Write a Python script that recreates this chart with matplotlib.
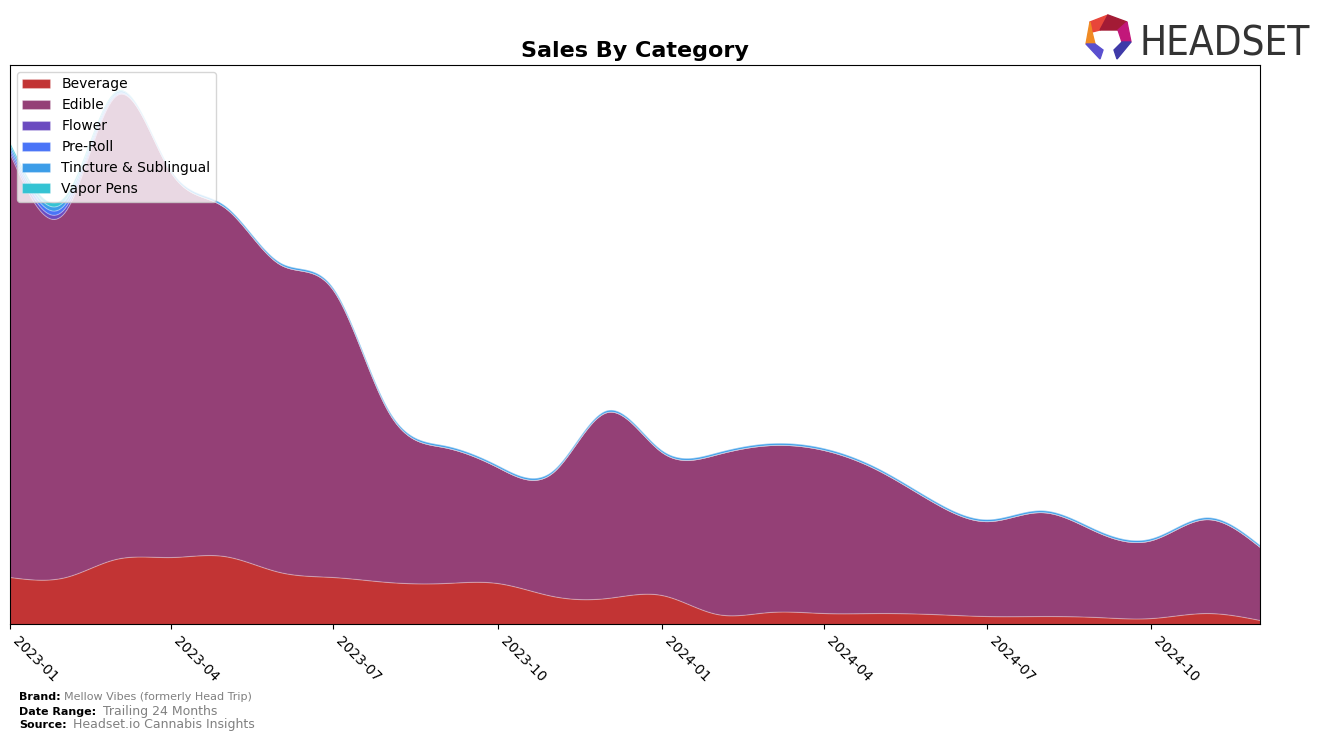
import matplotlib.pyplot as plt
import matplotlib.dates as mdates
from matplotlib.patches import Polygon
import numpy as np
import pandas as pd

# monthly sales (arbitrary units)
months = pd.date_range('2023-01-01', '2024-12-01', freq='MS')
beverage = [47, 47, 65, 67, 68, 52, 47, 42, 41, 41, 28, 26,
            29, 10, 12, 11, 11, 10, 8, 8, 7, 6, 11, 4]
total = [481, 429, 533, 454, 419, 362, 336, 214, 179, 159, 154, 214,
         174, 172, 181, 176, 156, 124, 105, 114, 94, 86, 107, 79]
flower = [3, 4, 1, 0, 0, 0, 0, 0, 0, 0, 0, 0,
          0, 0, 0, 0, 0, 0, 0, 0, 0, 0, 0, 0]
preroll = [3, 4, 1, 0, 0, 0, 0, 0, 0, 0, 0, 0,
           0, 0, 0, 0, 0, 0, 0, 0, 0, 0, 0, 0]
tincture = [3, 4, 2, 2, 2, 2, 2, 2, 2, 2, 2, 2,
            2, 2, 2, 2, 2, 2, 2, 2, 2, 2, 2, 2]
vapor = [2, 4, 1, 0, 0, 0, 0, 0, 0, 0, 0, 0,
         0, 0, 0, 0, 0, 0, 0, 0, 0, 0, 0, 0]
edible = [t - b - f - p - ti - v for t, b, f, p, ti, v in
          zip(total, beverage, flower, preroll, tincture, vapor)]

labels = ['Beverage', 'Edible', 'Flower', 'Pre-Roll', 'Tincture & Sublingual', 'Vapor Pens']
colors = ['#C23434', '#944076', '#6B4BC0', '#4A74F7', '#3C9DE8', '#34C3D3']


def natural_spline(x, y, xs):
    # natural cubic spline, just for smooth drawing
    x = np.asarray(x, float)
    y = np.asarray(y, float)
    n = len(x)
    h = np.diff(x)
    A = np.zeros((n, n))
    r = np.zeros(n)
    A[0, 0] = A[-1, -1] = 1
    for i in range(1, n - 1):
        A[i, i - 1] = h[i - 1]
        A[i, i] = 2 * (h[i - 1] + h[i])
        A[i, i + 1] = h[i]
        r[i] = 3 * ((y[i + 1] - y[i]) / h[i] - (y[i] - y[i - 1]) / h[i - 1])
    c = np.linalg.solve(A, r)
    b = (y[1:] - y[:-1]) / h - h * (2 * c[:-1] + c[1:]) / 3
    d = (c[1:] - c[:-1]) / (3 * h)
    idx = np.clip(np.searchsorted(x, xs) - 1, 0, n - 2)
    dx = xs - x[idx]
    return y[idx] + b[idx] * dx + c[idx] * dx ** 2 + d[idx] * dx ** 3


xnum = mdates.date2num(months)
xs = np.linspace(xnum[0], xnum[-1], 600)
series = [beverage, edible, flower, preroll, tincture, vapor]
smooth = [np.clip(natural_spline(xnum, s, xs), 0, None) for s in series]

fig = plt.figure(figsize=(13.24, 7.42), dpi=100)
ax = fig.add_axes([0.00755, 0.159, 0.9442, 0.7534])

polys = ax.stackplot(mdates.num2date(xs), *smooth, colors=colors, labels=labels)
for p in polys:
    p.set_edgecolor((1, 1, 1, 0.25))
    p.set_linewidth(0.8)

ax.set_xlim(months[0], months[-1])
ax.set_ylim(0, 559)
ax.set_yticks([])
ax.xaxis.set_major_locator(mdates.MonthLocator(bymonth=[1, 4, 7, 10]))
ax.xaxis.set_major_formatter(mdates.DateFormatter('%Y-%m'))
plt.setp(ax.get_xticklabels(), rotation=-45, ha='left', fontsize=10)
ax.set_title('Sales By Category', fontsize=16, fontweight='bold', pad=6)
ax.legend(loc='upper left', fontsize=10)

# footer
fig.text(0.0144, 0.056, 'Brand:', fontsize=8, fontweight='bold')
fig.text(0.048, 0.056, 'Mellow Vibes (formerly Head Trip)', fontsize=8, color='gray')
fig.text(0.0144, 0.037, 'Date Range:', fontsize=8, fontweight='bold')
fig.text(0.0775, 0.037, 'Trailing 24 Months', fontsize=9, color='gray')
fig.text(0.0144, 0.019, 'Source:', fontsize=8, fontweight='bold')
fig.text(0.055, 0.019, 'Headset.io Cannabis Insights', fontsize=9, color='gray')

# logo
fig.text(0.861, 0.925, 'HEADSET', fontsize=29, color='#333333', fontstretch='condensed')
W, H = 1324, 742
def px(pts):
    return [(x / W, 1 - y / H) for x, y in pts]
logo = [
    ([(1090, 22), (1108, 15), (1100, 30), (1092, 32)], '#E8463A'),
    ([(1108, 15), (1127, 22), (1118, 30), (1100, 30)], '#A31B35'),
    ([(1127, 22), (1131, 42), (1122, 42), (1118, 30)], '#C2177A'),
    ([(1090, 22), (1092, 32), (1095, 44), (1086, 44)], '#F08A24'),
    ([(1086, 44), (1095, 44), (1103, 50), (1100, 59)], '#5A4FCF'),
    ([(1131, 42), (1122, 42), (1114, 50), (1117, 59)], '#3F3AA8'),
]
for pts, c in logo:
    fig.add_artist(Polygon(px(pts), closed=True, color=c, transform=fig.transFigure))

fig.savefig('out.png', dpi=100)
